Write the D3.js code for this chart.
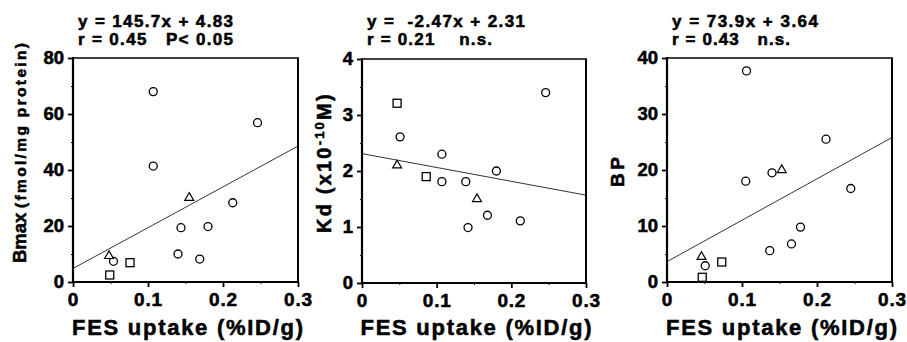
<!DOCTYPE html>
<html>
<head>
<meta charset="utf-8">
<script src="https://cdn.jsdelivr.net/npm/d3@7"></script>
<style>
  body { margin: 0; background: #fff; }
  svg { display: block; }
  text { font-family: "Liberation Sans", Arial, Helvetica, sans-serif; font-weight: bold; fill: #000;
         stroke: #000; stroke-width: 0.55px; }
</style>
</head>
<body>
<svg width="907" height="342"></svg>
<script>
// tick values
var xTicks = [0, 0.1, 0.2, 0.3];
var xMinor = [0.05, 0.15, 0.25];
var bmaxTicks = [0, 20, 40, 60, 80];
var bmaxMinor = [10, 30, 50, 70];
var kdTicks = [0, 1, 2, 3, 4];
var kdMinor = [0.5, 1.5, 2.5, 3.5];
var bpTicks = [0, 10, 20, 30, 40];
var bpMinor = [5, 15, 25, 35];

// Bmax vs FES uptake  [x, y]
var bmaxCircle = [[0.107, 68], [0.107, 41.4], [0.246, 56.9], [0.213, 28.3], [0.144, 19.4],
                  [0.180, 19.8], [0.140, 10.0], [0.169, 8.2], [0.054, 7.4]];
var bmaxTriangle = [[0.048, 9.3], [0.155, 30.1]];
var bmaxSquare = [[0.049, 2.5], [0.076, 6.9]];

// Kd vs FES uptake
var kdCircle = [[0.246, 3.40], [0.051, 2.61], [0.107, 2.30], [0.180, 2.00], [0.107, 1.81],
                [0.139, 1.81], [0.142, 0.99], [0.168, 1.21], [0.212, 1.11]];
var kdTriangle = [[0.047, 2.10], [0.154, 1.50]];
var kdSquare = [[0.047, 3.21], [0.086, 1.90]];

// BP vs FES uptake
var bpCircle = [[0.106, 37.7], [0.212, 25.5], [0.140, 19.5], [0.105, 18.0], [0.245, 16.7],
                [0.178, 9.8], [0.166, 6.8], [0.137, 5.6], [0.051, 2.9]];
var bpTriangle = [[0.046, 4.5], [0.153, 20.0]];
var bpSquare = [[0.047, 0.84], [0.073, 3.57]];

// regression lines [slope, intercept]
var fits = [[145.7, 4.83], [-2.47, 2.31], [73.9, 3.64]];

var titles = [
  ["y = 145.7x + 4.83", "r = 0.45   P< 0.05"],
  ["y =  -2.47x + 2.31", "r = 0.21    n.s."],
  ["y = 73.9x + 3.64", "r = 0.43   n.s."]
];

var panels = [
  { left: 73, right: 298, top: 58, bottom: 282, yMax: 80, ticks: bmaxTicks, minor: bmaxMinor,
    circle: bmaxCircle, triangle: bmaxTriangle, square: bmaxSquare, fit: fits[0], title: titles[0],
    tw: [155, 155] },
  { left: 362, right: 586, top: 59, bottom: 283, yMax: 4, ticks: kdTicks, minor: kdMinor,
    circle: kdCircle, triangle: kdTriangle, square: kdSquare, fit: fits[1], title: titles[1],
    tw: [158, 125] },
  { left: 667, right: 892, top: 58, bottom: 282, yMax: 40, ticks: bpTicks, minor: bpMinor,
    circle: bpCircle, triangle: bpTriangle, square: bpSquare, fit: fits[2], title: titles[2],
    tw: [146, 118] }
];

var svg = d3.select("svg");

panels.forEach(function(p, i) {
  var x = d3.scaleLinear().domain([0, 0.3]).range([p.left, p.right]);
  var y = d3.scaleLinear().domain([0, p.yMax]).range([p.bottom, p.top]);
  var g = svg.append("g");

  // frame top / right
  g.append("line").attr("x1", p.left).attr("x2", p.right + 1).attr("y1", p.top).attr("y2", p.top)
    .attr("stroke", "#000").attr("stroke-width", 1.6);
  g.append("line").attr("x1", p.right).attr("x2", p.right).attr("y1", p.top).attr("y2", p.bottom)
    .attr("stroke", "#000").attr("stroke-width", 2);

  // axes
  var xa = g.append("g").attr("transform", "translate(0," + p.bottom + ")")
    .call(d3.axisBottom(x).tickValues(xTicks).tickFormat(function(d) { return d === 0 ? "0" : d3.format(".1f")(d); })
      .tickSize(5).tickSizeOuter(0).tickPadding(6));
  xa.select(".domain").remove();
  xa.selectAll("line").attr("stroke-width", 1.8);
  xa.selectAll("text").attr("font-size", 19).attr("letter-spacing", 0.8);
  g.append("g").attr("transform", "translate(0," + p.bottom + ")")
    .call(d3.axisBottom(x).tickValues(xMinor).tickSize(2).tickFormat(""))
    .select(".domain").remove();

  var ya = g.append("g").attr("transform", "translate(" + p.left + ",0)")
    .call(d3.axisLeft(y).tickValues(p.ticks).tickFormat(d3.format("~g"))
      .tickSize(5).tickSizeOuter(0).tickPadding(4));
  ya.select(".domain").remove();
  ya.selectAll("line").attr("stroke-width", 1.8);
  ya.selectAll("text").attr("font-size", 18.5);
  g.append("g").attr("transform", "translate(" + p.left + ",0)")
    .call(d3.axisLeft(y).tickValues(p.minor).tickSize(2).tickFormat(""))
    .select(".domain").remove();

  g.append("line").attr("x1", p.left - 1).attr("x2", p.right + 1).attr("y1", p.bottom).attr("y2", p.bottom)
    .attr("stroke", "#000").attr("stroke-width", 2.2);
  g.append("line").attr("x1", p.left).attr("x2", p.left).attr("y1", p.top - 1).attr("y2", p.bottom + 1)
    .attr("stroke", "#000").attr("stroke-width", 2.2);

  // regression line
  g.append("line")
    .attr("x1", x(0)).attr("y1", y(p.fit[1]))
    .attr("x2", x(0.3)).attr("y2", y(p.fit[0] * 0.3 + p.fit[1]))
    .attr("stroke", "#000").attr("stroke-width", 0.8);

  // markers
  g.selectAll(".c").data(p.circle).enter().append("circle")
    .attr("cx", function(d) { return x(d[0]); }).attr("cy", function(d) { return y(d[1]); })
    .attr("r", 4).attr("fill", "#fff").attr("stroke", "#000").attr("stroke-width", 1.3);
  g.selectAll(".s").data(p.square).enter().append("rect")
    .attr("x", function(d) { return x(d[0]) - 4; }).attr("y", function(d) { return y(d[1]) - 4; })
    .attr("width", 8).attr("height", 8).attr("fill", "#fff").attr("stroke", "#000").attr("stroke-width", 1.3);
  g.selectAll(".t").data(p.triangle).enter().append("path")
    .attr("transform", function(d) { return "translate(" + x(d[0]) + "," + y(d[1]) + ")"; })
    .attr("d", d3.symbol(d3.symbolTriangle, 34))
    .attr("fill", "#fff").attr("stroke", "#000").attr("stroke-width", 1.2);

  // title lines
  p.title.forEach(function(t, k) {
    g.append("text").attr("x", p.left + 5).attr("y", 27 + k * 18)
      .attr("font-size", 17).style("white-space", "pre")
      .attr("textLength", p.tw[k]).attr("lengthAdjust", "spacing")
      .text(t);
  });

  // x title
  g.append("text").attr("x", (p.left + p.right) / 2 + 2).attr("y", 335)
    .attr("text-anchor", "middle").attr("font-size", 22)
    .attr("textLength", 231).attr("lengthAdjust", "spacing")
    .text("FES uptake (%ID/g)");
});

// y titles
svg.append("text").attr("transform", "translate(26,263) rotate(-90)")
  .attr("font-size", 18.5).text("Bmax");
svg.append("text").attr("transform", "translate(26,208) rotate(-90)")
  .attr("font-size", 15.5).attr("textLength", 165).attr("lengthAdjust", "spacing")
  .text("(fmol/mg protein)");

var kd = svg.append("text").attr("transform", "translate(331,233) rotate(-90)")
  .attr("font-size", 20).attr("letter-spacing", 2.2);
kd.append("tspan").text("Kd (x10");
kd.append("tspan").attr("dy", -7).attr("font-size", 13).text("-10");
kd.append("tspan").attr("dy", 7).text("M)");

svg.append("text").attr("transform", "translate(624,187) rotate(-90)")
  .attr("font-size", 19).attr("textLength", 30).attr("lengthAdjust", "spacing")
  .text("BP");
</script>
</body>
</html>
